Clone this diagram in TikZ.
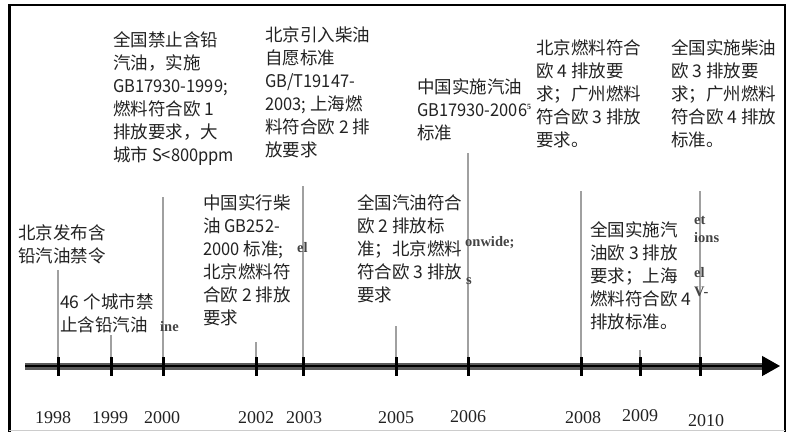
\documentclass[tikz,border=0pt]{standalone}
\usepackage{fontspec}
\setmainfont{Liberation Serif}
\newfontfamily\cjk{Noto Sans CJK SC}
\usetikzlibrary{arrows.meta}
\definecolor{txt}{HTML}{222222}
\definecolor{vlinec}{HTML}{A0A0A0}
\definecolor{axisgray}{HTML}{5A5A5A}
\newcommand\narrowlat[1]{\scalebox{0.94}[1]{#1}}
\tikzset{
  evt/.style={font=\cjk\fontsize{17.5}{23}\selectfont, text=txt, align=left, anchor=north west, inner sep=0pt},
  yr/.style={font=\fontsize{18}{20}\selectfont, text=txt, inner sep=0pt},
  frag/.style={font=\bfseries\fontsize{14.5}{16}\selectfont, text=txt!85, inner sep=0pt, anchor=west},
  vline/.style={draw=vlinec, line width=1.3pt},
  tickmark/.style={draw=black, line width=3pt},
  frame/.style={draw=black},
}
\begin{document}
\begin{tikzpicture}[x=1pt,y=-1pt]
\useasboundingbox (0,0) rectangle (791,432);
% frame
\draw[frame, line width=2pt] (8,5) -- (786,5);
\draw[frame, line width=3pt] (9.5,4) -- (9.5,432);
\draw[frame, line width=1.5pt] (785,4) -- (785,432);
\draw[draw=gray!40, line width=1pt] (9,430.5) -- (785,430.5);

% axis
\coordinate (axstart) at (25,366);
\coordinate (axend) at (780,366);
\coordinate (axband) at (764,366);
\draw[draw=axisgray, line width=7pt] (axstart) -- (axband);
\draw[draw=black, line width=1.4pt, -{Triangle[length=18pt,width=20pt]}] (axstart) -- (axend);

% tick coordinates and tops of vertical lines
\foreach \yy/\xx/\tp in {1998/58/270, 1999/111/335, 2000/163/197, 2002/256/342, 2003/303/186,
                         2005/396/326, 2006/468/153, 2008/581/191, 2009/640/350, 2010/700/191} {
  \coordinate (t\yy) at (\xx,366);
  \coordinate (top\yy) at (\xx,\tp);
  \draw[vline] (top\yy) -- (t\yy);
  \draw[tickmark] (t\yy) ++(0,-9) -- ++(0,19);
}

% years
\node[yr] (y1998) at (53,418) {1998};
\node[yr] (y1999) at (110,418) {1999};
\node[yr] (y2000) at (162,418) {2000};
\node[yr] (y2002) at (256,418) {2002};
\node[yr] (y2003) at (304,418) {2003};
\node[yr] (y2005) at (396,418) {2005};
\node[yr] (y2006) at (468,417) {2006};
\node[yr] (y2008) at (583,418) {2008};
\node[yr] (y2009) at (640,416) {2009};
\node[yr] (y2010) at (706,421) {2010};

% event texts
\node[evt] (e1) at (113,31) {全国禁止含铅\\汽油，实施\\\narrowlat{GB17930-1999;}\\燃料符合欧 1\\排放要求，大\\城市 \narrowlat{S<800ppm}};
\node[evt] (e2) at (265,26) {北京引入柴油\\自愿标准\\\narrowlat{GB/T19147-}\\\narrowlat{2003;} 上海燃\\料符合欧 2 排\\放要求};
\node[evt] (e3) at (417,78) {中国实施汽油\\\narrowlat{GB17930-2006}\raisebox{7pt}{\rmfamily\bfseries\fontsize{8}{8}\selectfont 5}\\标准};
\node[evt] (e4) at (536,39) {北京燃料符合\\欧 4 排放要\\求；广州燃料\\符合欧 3 排放\\要求。};
\node[evt] (e5) at (671,39) {全国实施柴油\\欧 3 排放要\\求；广州燃料\\符合欧 4 排放\\标准。};
\node[evt] (e6) at (18,224) {北京发布含\\铅汽油禁令};
\node[evt] (e7) at (60,293) {46 个城市禁\\止含铅汽油};
\node[evt] (e8) at (203,194) {中国实行柴\\油 \narrowlat{GB252-}\\\narrowlat{2000} 标准;\\北京燃料符\\合欧 2 排放\\要求};
\node[evt] (e9) at (357,194) {全国汽油符合\\欧 2 排放标\\准；北京燃料\\符合欧 3 排放\\要求};
\node[evt] (e10) at (590,221) {全国实施汽\\油欧 3 排放\\要求；上海\\燃料符合欧 4\\排放标准。};

% leftover fragments visible in the picture
\node[frag] (f1) at (160,327) {ine};
\node[frag] (f2) at (297,248) {el};
\node[frag] (f3) at (465,243) {onwide;};
\node[frag] (f4) at (466,281) {s};
\node[frag] (f5) at (694,220) {et};
\node[frag] (f6) at (694,238) {ions};
\node[frag] (f7) at (694,273) {el};
\node[frag] (f8) at (694,292) {V-};
\end{tikzpicture}
\end{document}
